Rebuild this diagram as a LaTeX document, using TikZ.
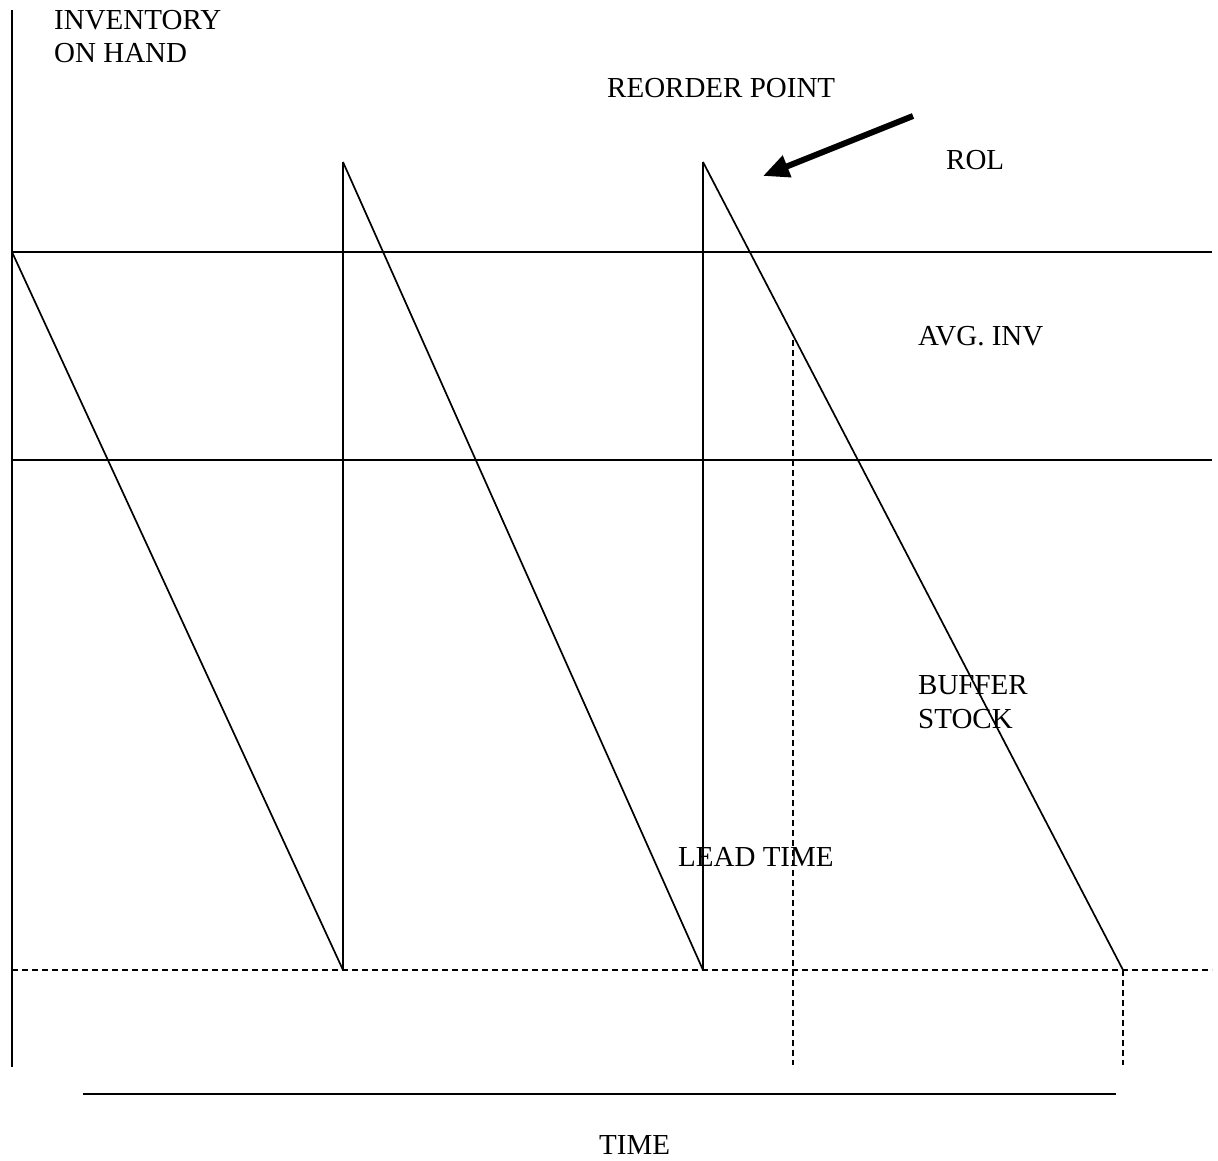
\documentclass[tikz,border=0pt]{standalone}
\usepackage{fontspec}
\setmainfont{Liberation Serif}
\usetikzlibrary{arrows.meta}
\begin{document}
\begin{tikzpicture}[x=1pt,y=-1pt,
  lbl/.style={anchor=base west,inner sep=0pt,align=left,
    font=\fontsize{29}{33.5}\selectfont},
  solidline/.style={line width=2pt},
  slope/.style={line width=1.7pt},
  guide/.style={line width=2pt,dash pattern=on 6pt off 4pt},
  pointer/.style={line width=6pt,-{Triangle[length=26pt,width=22pt]}}]
\useasboundingbox (0,0) rectangle (1218,1161);
\fill[white] (0,0) rectangle (1218,1161);

% axis and reference levels
\coordinate (axtop) at (12,10);
\coordinate (axbot) at (12,1067);
\coordinate (rolL) at (12,252);
\coordinate (rolR) at (1212,252);
\coordinate (avgL) at (12,460);
\coordinate (avgR) at (1212,460);
\coordinate (bufL) at (12,970);
\coordinate (bufR) at (1212,970);
\coordinate (tL) at (83,1094);
\coordinate (tR) at (1116,1094);

% sawtooth corners
\coordinate (s0) at (12,252);
\coordinate (b1) at (343,970);
\coordinate (p1) at (343,162);
\coordinate (b2) at (703,970);
\coordinate (p2) at (703,162);
\coordinate (b3) at (1123,970);

% lead time markers
\coordinate (ltTop) at (793,340);
\coordinate (ltBot) at (793,1065);
\coordinate (endBot) at (1123,1065);

% reorder pointer
\coordinate (arrS) at (913,116);
\coordinate (arrE) at (763,176);

\draw[solidline] (axtop) -- (axbot);
\draw[solidline] (rolL) -- (rolR);
\draw[solidline] (avgL) -- (avgR);
\draw[guide] (bufL) -- (bufR);
\draw[solidline] (tL) -- (tR);

\draw[slope] (s0) -- (b1);
\draw[solidline] (b1) -- (p1);
\draw[slope] (p1) -- (b2);
\draw[solidline] (b2) -- (p2);
\draw[slope] (p2) -- (b3);

\draw[guide] (ltTop) -- (ltBot);
\draw[guide] (b3) -- (endBot);

\draw[pointer] (arrS) -- (arrE);

% labels (multi-line ones are placed by the baseline of their last line)
\node[lbl] (inv) at (54,63) {INVENTORY\\ON HAND};
\node[lbl] (rop) at (607,98) {REORDER POINT};
\node[lbl] (rol) at (946,170) {ROL};
\node[lbl] (avg) at (918,345) {AVG. INV};
\node[lbl] (buf) at (918,728) {BUFFER\\STOCK};
\node[lbl] (lead) at (678,866) {LEAD TIME};
\node[lbl] (time) at (599,1154) {TIME};
\end{tikzpicture}
\end{document}
